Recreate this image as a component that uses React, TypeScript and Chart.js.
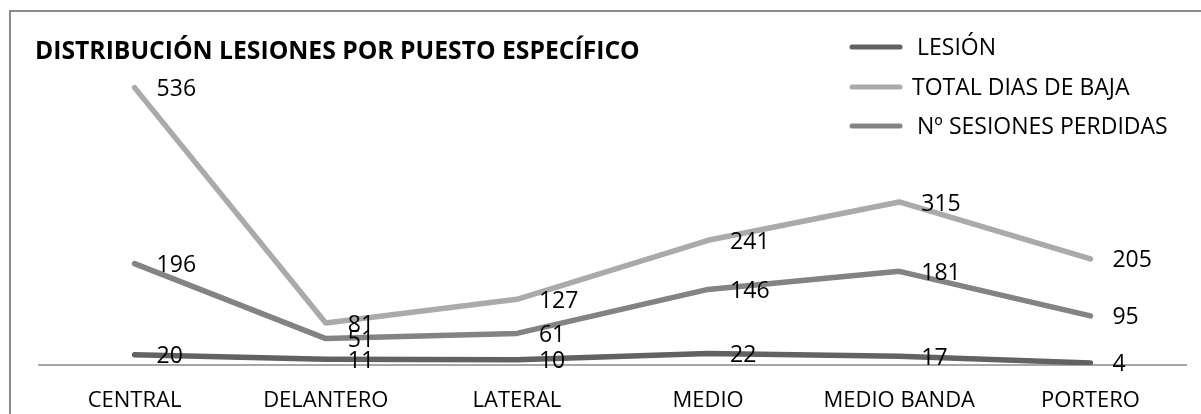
import React, { useEffect, useRef } from "react";
import { Chart, registerables } from "chart.js";

Chart.register(...registerables);

const titleText = "DISTRIBUCIÓN LESIONES POR PUESTO ESPECÍFICO";
const positions = ["CENTRAL", "DELANTERO", "LATERAL", "MEDIO", "MEDIO BANDA", "PORTERO"];
const lesion = [20, 11, 10, 22, 17, 4];
const totalDiasBaja = [536, 81, 127, 241, 315, 205];
const sesionesPerdidas = [196, 51, 61, 146, 181, 95];
const seriesNames = ["LESIÓN", "TOTAL DIAS DE BAJA", "Nº SESIONES PERDIDAS"];
const seriesColors = ["#626262", "#aaaaaa", "#838383"];

const FONT = "'Open Sans', 'Noto Sans', sans-serif";

// Values written just to the right of every point, plus the title and the legend.
const annotations = {
  id: "annotations",
  afterDatasetsDraw(chart: Chart) {
    const ctx = chart.ctx;
    ctx.save();
    ctx.fillStyle = "#000";
    ctx.font = `23px ${FONT}`;
    ctx.textAlign = "left";
    ctx.textBaseline = "middle";
    chart.data.datasets.forEach((ds, i) => {
      const meta = chart.getDatasetMeta(i);
      meta.data.forEach((pt, j) => {
        ctx.fillText(String(ds.data[j]), pt.x + 22, pt.y + 2);
      });
    });

    ctx.font = `bold 24.7px ${FONT}`;
    ctx.fillText(titleText, 35, 52);

    ctx.font = `23px ${FONT}`;
    const legendY = [47, 87, 126];
    const textX = [917, 912, 917];
    chart.data.datasets.forEach((ds, i) => {
      ctx.strokeStyle = ds.borderColor as string;
      ctx.lineWidth = 5;
      ctx.lineCap = "round";
      ctx.beginPath();
      ctx.moveTo(852, legendY[i]);
      ctx.lineTo(900, legendY[i]);
      ctx.stroke();
      ctx.fillStyle = "#000";
      ctx.fillText(ds.label as string, textX[i], legendY[i] + 1);
    });
    ctx.restore();
  },
};

export default function App() {
  const canvasRef = useRef<HTMLCanvasElement | null>(null);

  useEffect(() => {
    const canvas = canvasRef.current;
    if (!canvas) return;
    const values = [lesion, totalDiasBaja, sesionesPerdidas];
    const chart = new Chart(canvas, {
      type: "line",
      data: {
        labels: positions,
        datasets: values.map((v, i) => ({
          label: seriesNames[i],
          data: v,
          borderColor: seriesColors[i],
          backgroundColor: seriesColors[i],
          borderWidth: 5.5,
          borderCapStyle: "round" as const,
          borderJoinStyle: "round" as const,
          pointRadius: 0,
          tension: 0,
          fill: false,
        })),
      },
      options: {
        responsive: false,
        animation: false,
        events: [],
        layout: { padding: { left: 39, right: 15, top: 54.5, bottom: 0 } },
        plugins: {
          legend: { display: false },
          title: { display: false },
          tooltip: { enabled: false },
        },
        scales: {
          x: {
            offset: true,
            grid: { display: false, drawTicks: false },
            border: { display: true, color: "#a6a6a6", width: 2 },
            ticks: {
              color: "#000",
              font: { family: FONT, size: 22 },
              padding: 23,
              maxRotation: 0,
              autoSkip: false,
            },
            afterFit(scale: any) {
              scale.height = 49;
            },
          },
          y: {
            display: false,
            min: 0,
            max: 600,
          },
        },
      },
      plugins: [annotations],
    });
    return () => chart.destroy();
  }, []);

  return (
    <div style={{ position: "fixed", left: 0, top: 0, width: 1201, height: 414, background: "#fff" }}>
      <div
        style={{
          position: "absolute",
          left: 9,
          top: 10,
          width: 1300,
          height: 500,
          borderLeft: "2px solid #8c8c8c",
          borderTop: "2px solid #8c8c8c",
          boxSizing: "border-box",
        }}
      />
      <canvas
        ref={canvasRef}
        width={1201}
        height={414}
        style={{ position: "absolute", left: 0, top: 0, width: 1201, height: 414 }}
      />
    </div>
  );
}
